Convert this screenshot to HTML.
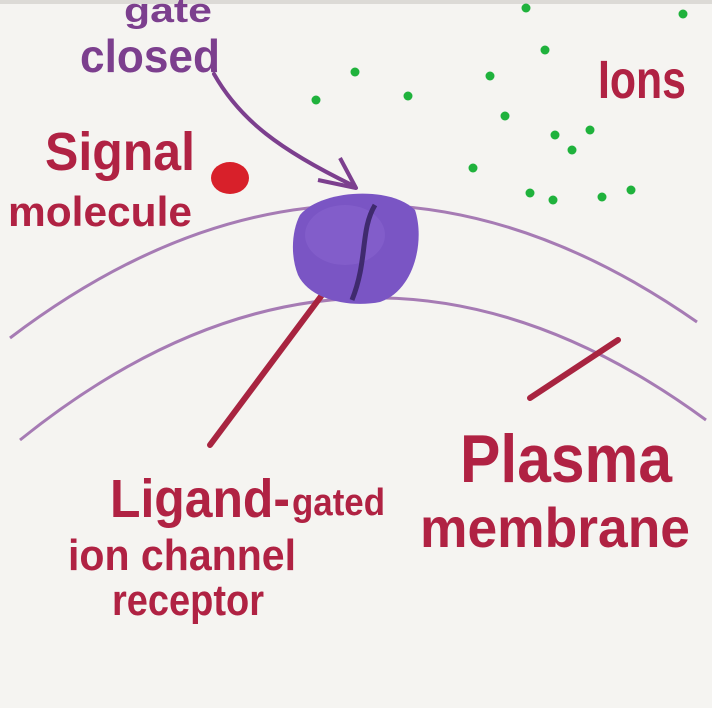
<!DOCTYPE html>
<html><head><meta charset="utf-8"><style>
html,body{margin:0;padding:0;background:#f5f4f1;}
svg{display:block}
text{font-family:"Liberation Sans",sans-serif;font-weight:bold;}
</style></head><body>
<svg width="712" height="708" viewBox="0 0 712 708" xmlns="http://www.w3.org/2000/svg">
<rect width="712" height="708" fill="#f5f4f1"/>
<rect x="0" y="0" width="712" height="4" fill="#dcdad6"/>
<!-- membrane arcs -->
<path d="M10,338 Q350,80 697,322" fill="none" stroke="#a67bb4" stroke-width="3"/>
<path d="M20,440 Q360,166 706,420" fill="none" stroke="#a67bb4" stroke-width="3"/>
<!-- red lines -->
<line x1="322" y1="295" x2="210" y2="445" stroke="#a82440" stroke-width="6" stroke-linecap="round"/>
<line x1="618" y1="340" x2="530" y2="398" stroke="#a82440" stroke-width="6" stroke-linecap="round"/>
<!-- purple arrow -->
<path d="M214,74 C240,120 280,150 352,185" fill="none" stroke="#7c3f8e" stroke-width="4" stroke-linecap="round"/>
<path d="M340,158 L356,188 L318,180" fill="none" stroke="#7c3f8e" stroke-width="4" stroke-linejoin="round"/>
<!-- ball -->
<path d="M300,215 C320,190 390,185 415,210 C425,240 415,290 380,302 C350,308 310,300 298,275 C290,255 292,230 300,215 Z" fill="#7a55c4"/>
<ellipse cx="345" cy="235" rx="40" ry="30" fill="#8a66d0" opacity="0.5"/>
<path d="M375,205 C360,230 368,260 352,300" fill="none" stroke="#3f2a6e" stroke-width="5"/>
<!-- signal molecule -->
<ellipse cx="230" cy="178" rx="19" ry="16" fill="#d8202a"/>
<!-- ions -->
<g fill="#1fb23c">
<circle cx="526" cy="8" r="4.5"/><circle cx="683" cy="14" r="4.5"/><circle cx="545" cy="50" r="4.5"/>
<circle cx="355" cy="72" r="4.5"/><circle cx="490" cy="76" r="4.5"/><circle cx="316" cy="100" r="4.5"/>
<circle cx="408" cy="96" r="4.5"/><circle cx="505" cy="116" r="4.5"/><circle cx="590" cy="130" r="4.5"/>
<circle cx="555" cy="135" r="4.5"/><circle cx="572" cy="150" r="4.5"/><circle cx="473" cy="168" r="4.5"/>
<circle cx="631" cy="190" r="4.5"/><circle cx="602" cy="197" r="4.5"/><circle cx="530" cy="193" r="4.5"/>
<circle cx="553" cy="200" r="4.5"/>
</g>
<!-- text -->
<g fill="#7c3f8e">
<text x="124" y="22" font-size="34" textLength="88" lengthAdjust="spacingAndGlyphs">gate</text>
<text x="80" y="72" font-size="46" textLength="140" lengthAdjust="spacingAndGlyphs">closed</text>
</g>
<g fill="#b02243">
<text x="45" y="170" font-size="54" textLength="150" lengthAdjust="spacingAndGlyphs">Signal</text>
<text x="8" y="226" font-size="42" textLength="184" lengthAdjust="spacingAndGlyphs">molecule</text>
<text x="598" y="98" font-size="54" textLength="88" lengthAdjust="spacingAndGlyphs">Ions</text>
<text x="110" y="517" font-size="54" textLength="180" lengthAdjust="spacingAndGlyphs">Ligand-</text>
<text x="292" y="515" font-size="38" textLength="93" lengthAdjust="spacingAndGlyphs">gated</text>
<text x="68" y="570" font-size="44" textLength="228" lengthAdjust="spacingAndGlyphs">ion channel</text>
<text x="112" y="615" font-size="44" textLength="152" lengthAdjust="spacingAndGlyphs">receptor</text>
<text x="460" y="482" font-size="68" textLength="212" lengthAdjust="spacingAndGlyphs">Plasma</text>
<text x="420" y="547" font-size="56" textLength="270" lengthAdjust="spacingAndGlyphs">membrane</text>
</g>
</svg>
</body></html>
